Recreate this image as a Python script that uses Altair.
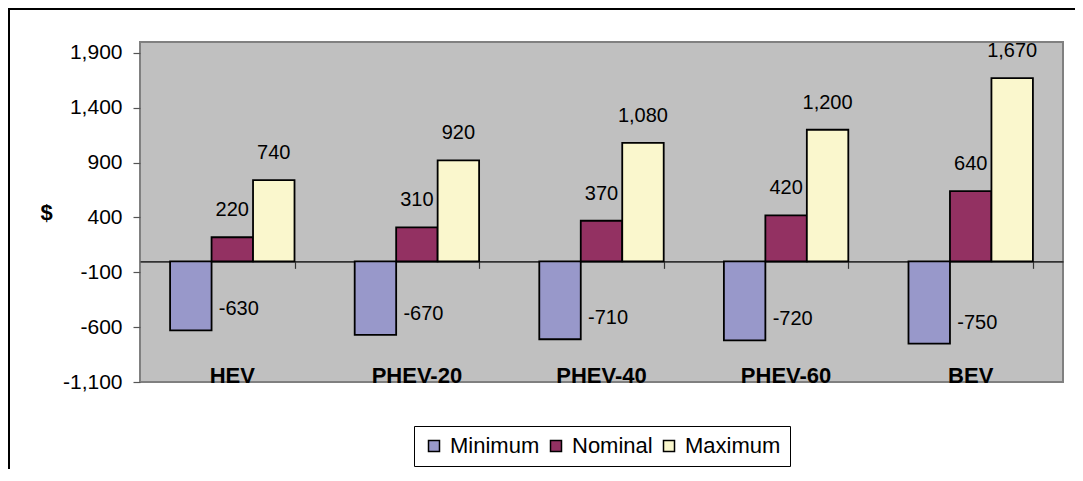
import altair as alt
import pandas as pd

# ---- data ----
categories = ["HEV", "PHEV-20", "PHEV-40", "PHEV-60", "BEV"]
series_names = ["Minimum", "Nominal", "Maximum"]
minimum = [-630, -670, -710, -720, -750]
nominal = [220, 310, 370, 420, 640]
maximum = [740, 920, 1080, 1200, 1670]
y_ticks = [-1100, -600, -100, 400, 900, 1400, 1900]
y_domain = [-1100, 2000]
colors = ["#9898CA", "#933162", "#FAF7CD"]

rows = []
for s, vals in zip(series_names, [minimum, nominal, maximum]):
    for c, v in zip(categories, vals):
        rows.append({"category": c, "series": s, "value": v, "label": f"{v:,}"})
df = pd.DataFrame(rows)
cat_df = pd.DataFrame({"category": categories})
frame_df = pd.DataFrame({"k": [0]})

W, H = 923, 340
PAD_L, PAD_T, PAD_R, PAD_B = 132, 34, 12, 87
FONT = "Liberation Sans"
zero_offset = -(H - H * (y_domain[1] - 0) / (y_domain[1] - y_domain[0]))

x_enc = alt.X(
    "category:N", sort=categories, title=None,
    scale=alt.Scale(paddingInner=0.326, paddingOuter=0.163),
    axis=alt.Axis(labels=False, domain=True, domainColor="#333333", domainWidth=1.6,
                  ticks=True, tickBand="extent", tickSize=7, tickColor="#333333",
                  tickWidth=1.2, offset=zero_offset, title=None, grid=False),
)
xoff = alt.XOffset("series:N", sort=series_names,
                   scale=alt.Scale(paddingInner=0, paddingOuter=0))
y_enc = alt.Y(
    "value:Q", scale=alt.Scale(domain=y_domain, nice=False, zero=False),
    axis=alt.Axis(values=y_ticks,
                  labelExpr="replace(format(datum.value, ','), '\u2212', '-')",
                  title="$", titleAngle=0, titleFont=FONT, titleFontSize=22,
                  titleFontWeight="bold", titleColor="black",
                  titleX=-94, titleY=170, titleAlign="center", titleBaseline="middle",
                  labelFont=FONT, labelFontSize=21, labelColor="black", labelPadding=11,
                  tickSize=7, tickColor="#555555", tickWidth=1.2, domain=False, grid=False),
)

bars = alt.Chart(df).mark_bar(stroke="black", strokeWidth=1.8).encode(
    x=x_enc, xOffset=xoff, y=y_enc, y2=alt.datum(0),
    color=alt.Color("series:N", sort=series_names,
                    scale=alt.Scale(domain=series_names, range=colors),
                    legend=alt.Legend(title=None, orient="none", legendX=274, legendY=384,
                                      direction="horizontal", symbolType="square",
                                      symbolSize=121, symbolStrokeColor="black",
                                      symbolStrokeWidth=1.5, symbolOpacity=1,
                                      labelFont=FONT, labelFontSize=22, labelColor="black",
                                      labelOffset=5, columnPadding=5, padding=9,
                                      strokeColor="black", fillColor="white")),
)

min_labels = alt.Chart(df).transform_filter(alt.datum.series == "Minimum").mark_text(
    font=FONT, fontSize=20, color="black", align="left", baseline="middle", dx=28, dy=-21
).encode(x=x_enc, xOffset=xoff, y=y_enc, text="label:N")

pos_labels = alt.Chart(df).transform_filter(alt.datum.series != "Minimum").mark_text(
    font=FONT, fontSize=20, color="black", align="center", baseline="middle", dy=-27
).encode(x=x_enc, xOffset=xoff, y=y_enc, text="label:N")

cat_labels = alt.Chart(cat_df).mark_text(
    font=FONT, fontSize=22, fontWeight="bold", color="black", align="center",
    baseline="alphabetic", dy=1
).encode(x=x_enc, y=alt.datum(y_domain[0]), text="category:N")

frame_top = alt.Chart(frame_df).mark_rule(color="black", strokeWidth=2).encode(
    x=alt.value(-PAD_L), x2=alt.value(W + PAD_R), y=alt.value(-PAD_T + 1))
frame_left = alt.Chart(frame_df).mark_rule(color="black", strokeWidth=2).encode(
    x=alt.value(-PAD_L + 1), y=alt.value(-PAD_T), y2=alt.value(H + PAD_B))

chart = alt.layer(bars, min_labels, pos_labels, cat_labels, frame_top, frame_left).properties(
    width=W, height=H,
    autosize=alt.AutoSizeParams(type="none"),
    padding={"left": PAD_L, "top": PAD_T, "right": PAD_R, "bottom": PAD_B},
).configure_view(fill="#C0C0C0", stroke="#808080", strokeWidth=2)

chart.save("out.html", embed_options={"renderer": "svg", "actions": False})
